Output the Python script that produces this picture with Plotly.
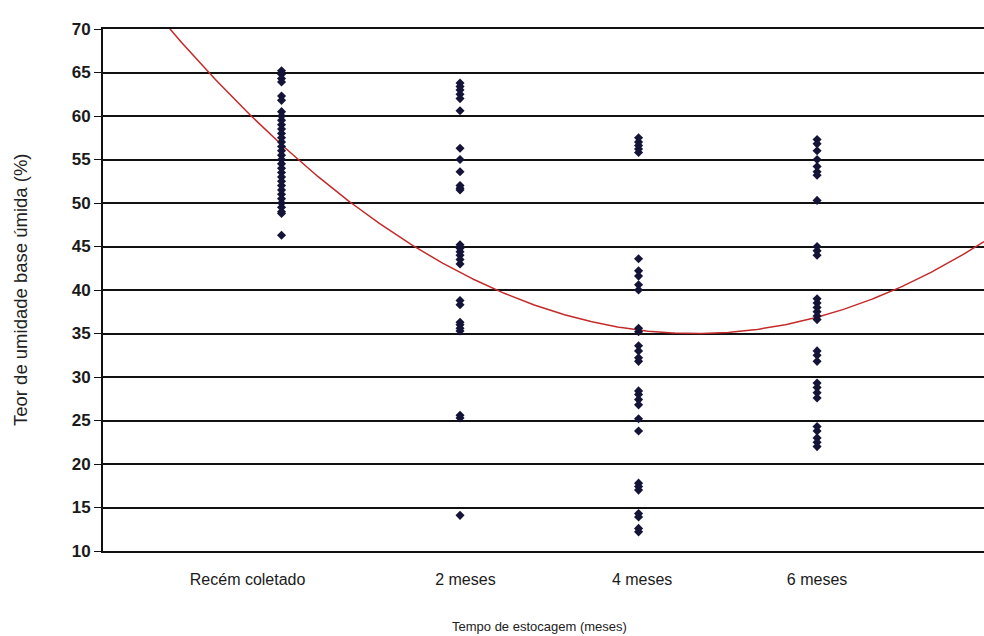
import numpy as np
import plotly.graph_objects as go

# Storage time categories (x positions 1..4) and where their labels sit
categories = ["Recém coletado", "2 meses", "4 meses", "6 meses"]
label_pos = [0.81, 2.03, 3.02, 4.0]

# Moisture content, wet basis (%), per storage time
recem = [65.2, 64.8, 64.3, 63.9, 62.3, 61.8, 60.5, 60.0, 59.5, 59.0, 58.5, 58.0,
         57.5, 57.0, 56.5, 56.0, 55.5, 55.0, 54.5, 54.0, 53.5, 53.0, 52.5, 52.0,
         51.5, 51.0, 50.5, 50.0, 49.5, 49.0, 48.8, 46.3]
meses2 = [63.8, 63.4, 63.0, 62.5, 62.0, 60.6, 56.3, 55.0, 53.6, 52.0, 51.7, 51.5,
          45.2, 44.8, 44.4, 44.0, 43.5, 43.0, 38.8, 38.3, 36.3, 36.0, 35.6, 35.3,
          25.6, 25.3, 14.1]
meses4 = [57.5, 57.0, 56.6, 56.2, 55.8, 43.6, 42.2, 41.6, 40.6, 40.0, 35.6, 35.2,
          33.6, 33.0, 32.2, 31.8, 28.4, 28.0, 27.4, 26.8, 25.2, 23.8, 17.8, 17.4,
          17.0, 14.3, 13.9, 12.6, 12.2]
meses6 = [57.3, 56.8, 56.0, 55.0, 54.2, 53.6, 53.2, 50.3, 45.0, 44.5, 44.0, 39.0,
          38.5, 38.0, 37.5, 37.0, 36.6, 33.0, 32.5, 31.8, 29.3, 28.8, 28.2, 27.6,
          24.3, 23.8, 23.0, 22.5, 22.0]
series = [recem, meses2, meses4, meses6]

# Quadratic trend line coefficients: y = c0 + c1*x + c2*x^2
trend_coef = [79.47, -26.81, 4.04]

y_ticks = list(range(10, 75, 5))
x_range = [0, 4.935]

xs, ys = [], []
for i, vals in enumerate(series):
    xs += [i + 1] * len(vals)
    ys += vals

xt = np.linspace(x_range[0], x_range[1], 400)
yt = trend_coef[0] + trend_coef[1] * xt + trend_coef[2] * xt ** 2

fig = go.Figure()
fig.add_trace(go.Scatter(
    x=xt, y=yt, mode="lines",
    line=dict(color="#c42a2a", width=1.5),
    hoverinfo="skip", cliponaxis=True,
))
fig.add_trace(go.Scatter(
    x=xs, y=ys, mode="markers",
    marker=dict(symbol="diamond", size=7, color="#141438"),
))

font_family = "Liberation Sans, Arial, sans-serif"

fig.update_layout(
    width=984, height=636,
    margin=dict(l=103, r=0, t=29, b=85),
    paper_bgcolor="white", plot_bgcolor="white",
    showlegend=False,
    font=dict(family=font_family, color="#222222"),
    xaxis=dict(
        range=x_range, tickmode="array", tickvals=label_pos, ticktext=categories,
        showgrid=False, zeroline=False,
        showline=True, mirror=True, linecolor="#111111", linewidth=2,
        ticks="", tickfont=dict(size=16, color="#1a1a1a"), ticklabelstandoff=13,
    ),
    yaxis=dict(
        range=[10, 70], tickmode="array", tickvals=y_ticks,
        showgrid=True, gridcolor="#111111", gridwidth=2,
        zeroline=False, showline=True, linecolor="#111111", linewidth=2,
        ticks="outside", ticklen=7, tickcolor="#111111", tickwidth=1,
        tickfont=dict(size=17, color="#1a1a1a", weight="bold"),
    ),
    annotations=[
        dict(text="Teor de umidade base úmida (%)", xref="paper", yref="paper",
             x=-0.0942, y=0.5, xanchor="center", yanchor="middle", textangle=-90,
             showarrow=False, font=dict(size=18.5, color="#222222")),
        dict(text="Tempo de estocagem (meses)", xref="paper", yref="paper",
             x=0.496, y=-0.1437, xanchor="center", yanchor="middle",
             showarrow=False, font=dict(size=13, color="#222222")),
    ],
)

fig.write_html("out.html")
